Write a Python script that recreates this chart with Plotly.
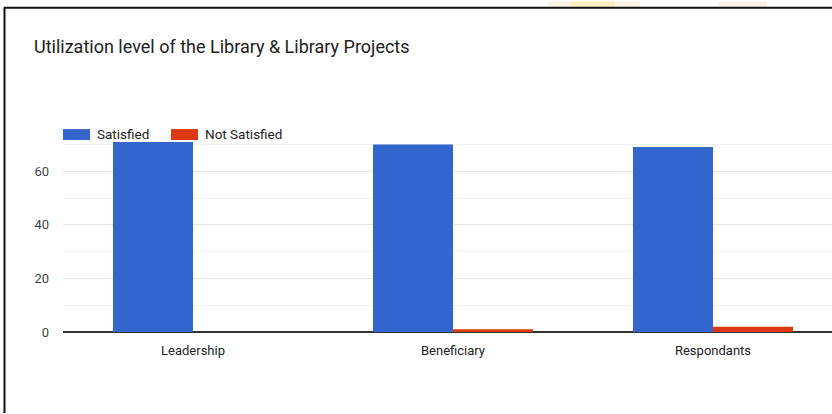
import plotly.graph_objects as go

# Survey responses per group
categories = ["Leadership", "Beneficiary", "Respondants"]
satisfied = [71, 70, 69]
not_satisfied = [0, 1, 2]
series_names = ["Satisfied", "Not Satisfied"]
y_ticks = [0, 20, 40, 60]

W, H = 832, 414
ML, MR, MT, MB = 63, 0, 141.5, 81.5
PW, PH = W - ML - MR, H - MT - MB

BLUE = "#3366CC"
RED = "#DC3912"
FONT = "Roboto, Arial, sans-serif"


def px(x):
    return (x - ML) / PW


def py(y):
    return 1 - (y - MT) / PH


fig = go.Figure()
fig.add_trace(go.Bar(x=categories, y=satisfied, name=series_names[0],
                     marker=dict(color=BLUE, line=dict(width=0))))
fig.add_trace(go.Bar(x=categories, y=not_satisfied, name=series_names[1],
                     marker=dict(color=RED, line=dict(width=0))))

# Frame lines around the card
shapes = [
    dict(type="line", xref="paper", yref="paper", x0=px(4), x1=px(832), y0=py(6.5), y1=py(6.5),
         line=dict(color="#111", width=2)),
    dict(type="line", xref="paper", yref="paper", x0=px(4.5), x1=px(4.5), y0=py(6), y1=py(414),
         line=dict(color="#111", width=2)),
]
# faint logo tints above the frame
for x0, x1, col in [(548, 640, "rgba(252,205,140,0.22)"), (570, 615, "rgba(255,225,120,0.3)"),
                    (718, 767, "rgba(250,200,150,0.22)")]:
    shapes.append(dict(type="rect", xref="paper", yref="paper", x0=px(x0), x1=px(x1),
                       y0=py(0), y1=py(5.5), fillcolor=col, line=dict(width=0), layer="below"))

# Legend swatches and labels
legend_items = [(series_names[0], BLUE, 63, 95), (series_names[1], RED, 171, 203)]
annotations = []
for name, color, sx, tx in legend_items:
    shapes.append(dict(type="rect", xref="paper", yref="paper", x0=px(sx), x1=px(sx + 27),
                       y0=py(139.5), y1=py(128.5), fillcolor=color, line=dict(width=0)))
    annotations.append(dict(text=name, xref="paper", yref="paper", x=px(tx), y=py(133.5),
                            xanchor="left", yanchor="middle", showarrow=False,
                            font=dict(family=FONT, size=13.5, color="#222")))

fig.update_layout(
    width=W, height=H,
    margin=dict(l=ML, r=MR, t=MT, b=MB, autoexpand=False),
    paper_bgcolor="white", plot_bgcolor="white",
    barmode="group", bargap=100 / 260, bargroupgap=0,
    showlegend=False,
    title=dict(text="Utilization level of the Library & Library Projects",
               xref="container", yref="container", x=34 / W, y=1 - 47 / H,
               xanchor="left", yanchor="middle",
               font=dict(family=FONT, size=18, color="#212121")),
    shapes=shapes,
    annotations=annotations,
    xaxis=dict(range=[-0.5, -0.5 + PW / 260], showgrid=False, showline=False, zeroline=False,
               ticks="", ticklabelstandoff=9,
               tickfont=dict(family=FONT, size=13, color="#222")),
    yaxis=dict(range=[0, 70.9], tickvals=y_ticks, showgrid=True, gridcolor="#e6e6e6", gridwidth=1,
               minor=dict(dtick=10, showgrid=True, gridcolor="#f0f0f0", gridwidth=1),
               zeroline=True, zerolinecolor="#333", zerolinewidth=1.5,
               showline=False, ticks="", ticklabelstandoff=13,
               tickfont=dict(family=FONT, size=13, color="#444")),
)

fig.write_html("out.html")
